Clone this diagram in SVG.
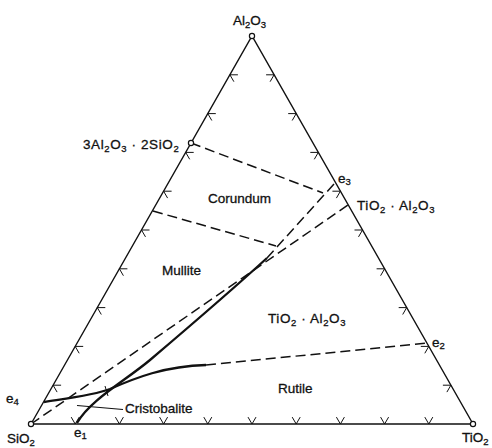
<svg xmlns="http://www.w3.org/2000/svg" width="492" height="448" viewBox="0 0 492 448">
<style>
text{font-family:"Liberation Sans",Arial,sans-serif;font-size:13.5px;fill:#111;stroke:#111;stroke-width:0.3;}
.sub{font-size:9.5px;}
.wide{letter-spacing:0.6px;}
.edge{fill:none;stroke:#111;stroke-width:1.4;}
.tick{fill:none;stroke:#111;stroke-width:1;}
.bnd{fill:none;stroke:#111;stroke-width:2.3;}
.dash{fill:none;stroke:#111;stroke-width:1.5;stroke-dasharray:10 5;}
.lead{fill:none;stroke:#111;stroke-width:1.1;}
.pt{fill:#fff;stroke:#111;stroke-width:1.2;}
</style>
<defs>
<path id="tB" d="M-4,-6.9 L0,0 L4,-6.9"/>
<path id="tL" d="M8,0 L0,0 L4,6.9"/>
<path id="tR" d="M-8,0 L0,0 L-4,6.9"/>
</defs>
<rect width="492" height="448" fill="#fff"/>
<g id="connectors">
<path class="edge" d="M31,424 L252,36 L473,424 Z"/>
<g id="ticks">
<use class="tick" href="#tB" x="75.2" y="424"/><use class="tick" href="#tB" x="119.4" y="424"/><use class="tick" href="#tB" x="163.6" y="424"/><use class="tick" href="#tB" x="207.8" y="424"/><use class="tick" href="#tB" x="252" y="424"/><use class="tick" href="#tB" x="296.2" y="424"/><use class="tick" href="#tB" x="340.4" y="424"/><use class="tick" href="#tB" x="384.6" y="424"/><use class="tick" href="#tB" x="428.8" y="424"/>
<use class="tick" href="#tL" x="53.1" y="385.2"/><use class="tick" href="#tL" x="75.2" y="346.4"/><use class="tick" href="#tL" x="97.3" y="307.6"/><use class="tick" href="#tL" x="119.4" y="268.8"/><use class="tick" href="#tL" x="141.5" y="230"/><use class="tick" href="#tL" x="163.6" y="191.2"/><use class="tick" href="#tL" x="185.7" y="152.4"/><use class="tick" href="#tL" x="207.8" y="113.6"/><use class="tick" href="#tL" x="229.9" y="74.8"/>
<use class="tick" href="#tR" x="450.9" y="385.2"/><use class="tick" href="#tR" x="428.8" y="346.4"/><use class="tick" href="#tR" x="406.7" y="307.6"/><use class="tick" href="#tR" x="384.6" y="268.8"/><use class="tick" href="#tR" x="362.5" y="230"/><use class="tick" href="#tR" x="340.4" y="191.2"/><use class="tick" href="#tR" x="318.3" y="152.4"/><use class="tick" href="#tR" x="296.2" y="113.6"/><use class="tick" href="#tR" x="274.1" y="74.8"/>
</g>
<path class="dash" d="M191,143 L323,193"/>
<path class="dash" d="M153,211 L276,246"/>
<path class="dash" d="M334,184 L267,258"/>
<path class="dash" d="M31,424 L348,205"/>
<path class="dash" d="M206,365 L428,343"/>
<path class="bnd" d="M267,258 C232,290 190,326 150,360 C125,381 90,400 77,423"/>
<path class="bnd" d="M44,402 C70,398 95,395 110,389 C135,378 165,366 206,365"/>
<path class="tick" d="M105,386 L108,396"/>
<path class="lead" d="M77,405.5 L123,409.5"/>
</g>
<g id="node-Al2O3"><circle class="pt" cx="252" cy="36" r="2.6"/><text x="233" y="25">Al<tspan class="sub" dy="3">2</tspan><tspan dy="-3">O</tspan><tspan class="sub" dy="3">3</tspan></text></g>
<g id="node-SiO2"><circle class="pt" cx="31" cy="424" r="2.6"/><text x="7" y="443">SiO<tspan class="sub" dy="3">2</tspan></text></g>
<g id="node-TiO2"><circle class="pt" cx="473" cy="424" r="2.6"/><text x="462" y="442">TiO<tspan class="sub" dy="3">2</tspan></text></g>
<g id="node-mullite"><circle class="pt" cx="191" cy="143" r="2.6"/><text class="wide" x="83" y="149">3Al<tspan class="sub" dy="3">2</tspan><tspan dy="-3">O</tspan><tspan class="sub" dy="3">3</tspan><tspan dy="-3"> · 2SiO</tspan><tspan class="sub" dy="3">2</tspan></text></g>
<g id="node-Al2TiO5"><text class="wide" x="357" y="210">TiO<tspan class="sub" dy="3">2</tspan><tspan dy="-3"> · Al</tspan><tspan class="sub" dy="3">2</tspan><tspan dy="-3">O</tspan><tspan class="sub" dy="3">3</tspan></text></g>
<g id="node-e1"><text x="74" y="437">e<tspan class="sub" dy="2">1</tspan></text></g>
<g id="node-e2"><text x="432" y="347">e<tspan class="sub" dy="2">2</tspan></text></g>
<g id="node-e3"><text x="338" y="183">e<tspan class="sub" dy="2">3</tspan></text></g>
<g id="node-e4"><text x="6" y="403">e<tspan class="sub" dy="2">4</tspan></text></g>
<g id="fields">
<text x="208" y="203">Corundum</text>
<text x="162" y="275">Mullite</text>
<text class="wide" x="268" y="323">TiO<tspan class="sub" dy="3">2</tspan><tspan dy="-3"> · Al</tspan><tspan class="sub" dy="3">2</tspan><tspan dy="-3">O</tspan><tspan class="sub" dy="3">3</tspan></text>
<text x="278" y="393">Rutile</text>
<text x="125" y="413">Cristobalite</text>
</g>
</svg>
